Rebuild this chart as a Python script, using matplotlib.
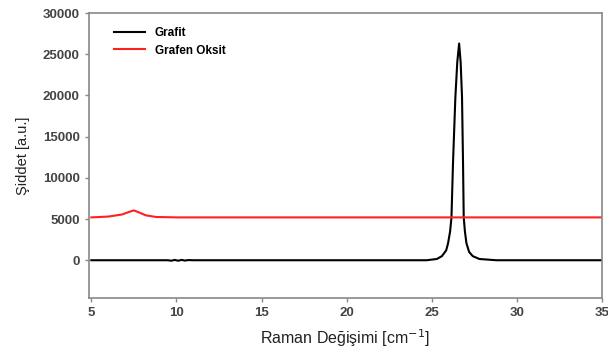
import matplotlib
matplotlib.use("Agg")
import matplotlib.pyplot as plt

plt.rcParams["font.family"] = ["Liberation Sans", "DejaVu Sans"]

# Grafit (black) spectrum
grafit_x = [5.0, 9.5, 9.7, 9.9, 10.1, 10.3, 10.5, 10.7, 11.0, 24.7, 25.3, 25.6, 25.85,
            25.96, 26.08, 26.16, 26.25, 26.39, 26.5, 26.61, 26.7, 26.78, 26.84, 26.88,
            26.95, 27.04, 27.2, 27.41, 27.8, 28.8, 35.0]
grafit_y = [0, 0, -60, 40, -60, 40, -40, 20, 0, 0, 150, 500, 1200,
            2060, 3500, 5200, 11770, 19800, 24000, 26300, 24000, 19800, 11770, 5200,
            3500, 2060, 1000, 500, 150, 0, 0]

# Grafen Oksit (red) spectrum
go_x = [5.0, 6.0, 6.8, 7.2, 7.5, 7.8, 8.2, 8.8, 10.0, 35.0]
go_y = [5200, 5300, 5550, 5850, 6050, 5800, 5450, 5250, 5200, 5200]

fig = plt.figure(figsize=(6.08, 3.52), dpi=100)
ax = fig.add_axes([0.146, 0.153, 0.844, 0.81])

ax.plot(grafit_x, grafit_y, color="black", linewidth=1.5, label="Grafit")
ax.plot(go_x, go_y, color="#ff2020", linewidth=1.5, label="Grafen Oksit")

ax.set_xlim(4.85, 35)
ax.set_ylim(-4600, 30000)
ax.set_xticks([5, 10, 15, 20, 25, 30, 35])
ax.set_yticks([0, 5000, 10000, 15000, 20000, 25000, 30000])

for s in ax.spines.values():
    s.set_color("#888888")
    s.set_linewidth(1.2)
ax.tick_params(colors="#888888", length=3, width=1, labelcolor="#444444", labelsize=9.5)
for lab in ax.get_xticklabels() + ax.get_yticklabels():
    lab.set_fontweight("bold")

ax.set_xlabel("Raman Değişimi [cm$^{-1}$]", fontsize=11.5, color="#222222", labelpad=6)
ax.set_ylabel("Şiddet [a.u.]", fontsize=10.5, color="#222222")
ax.yaxis.set_label_coords(-0.115, 0.5)

leg = ax.legend(loc="upper left", bbox_to_anchor=(0.05, 0.952), frameon=False,
                prop={"weight": "bold", "size": 8.5}, handlelength=2.6,
                borderpad=0, borderaxespad=0, labelspacing=0.5)

fig.savefig("out.png", dpi=100)
